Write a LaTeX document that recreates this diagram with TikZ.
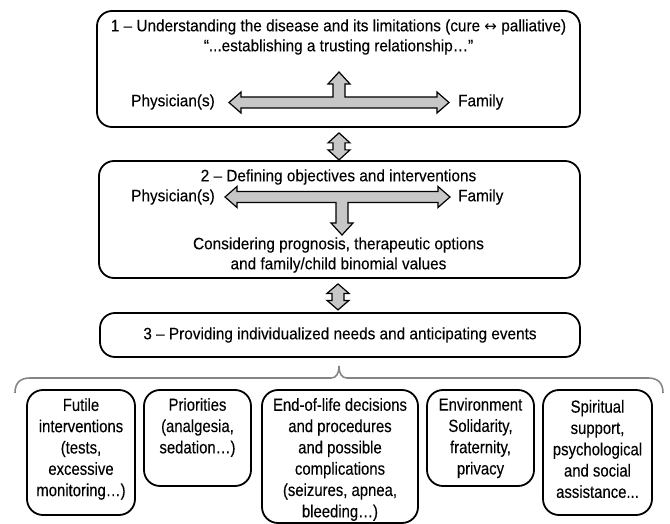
\documentclass[tikz,border=0pt]{standalone}
\usepackage{fontspec}
\setmainfont{Liberation Sans}[FakeStretch=0.93, FakeBold=0.15]
\newfontfamily\bfnt{Liberation Sans}[FakeStretch=0.85, FakeBold=0.15]
\newfontfamily\symf{DejaVu Sans}
\begin{document}
\begin{tikzpicture}[x=1pt,y=-1pt,
  bigbox/.style={draw, line width=1.8pt, rounded corners=15pt, inner sep=0pt},
  smallbox/.style={draw, line width=1.8pt, rounded corners=16pt, inner sep=0pt},
  txt/.style={font=\fontsize{16.5}{20}\selectfont, inner sep=0pt, align=center},
  stxt/.style={font=\bfnt\fontsize{17.5}{21.3}\selectfont, inner sep=0pt, align=center},
  arr/.style={draw, line width=1.2pt, fill=black!22, line join=miter},
  brace/.style={draw=black!48, line width=1.6pt}
]
\useasboundingbox (0,0) rectangle (670,524);
% main boxes
\node[bigbox, minimum width=483pt, minimum height=116pt] (b1) at (338.5,69) {};
\node[bigbox, minimum width=481pt, minimum height=117pt] (b2) at (339.5,219.5) {};
\node[bigbox, minimum width=480pt, minimum height=44pt] (b3) at (340,335) {};
% box 1 texts
\node[txt] (t1) at (338.5,37) {1 – Understanding the disease and its limitations (cure {\symf\fontsize{15}{20}\selectfont ↔} palliative)\\“...establishing a trusting relationship…”};
\node[txt, anchor=east] (p1) at (215,102) {Physician(s)};
\node[txt, anchor=west] (f1) at (458,102) {Family};
% box 2 texts
\node[txt] (t2) at (338.5,177) {2 – Defining objectives and interventions};
\node[txt, anchor=east] (p2) at (215,197) {Physician(s)};
\node[txt, anchor=west] (f2) at (458,197) {Family};
\node[txt] (c2) at (338.5,255) {Considering prognosis, therapeutic options\\and family/child binomial values};
% box 3 text
\node[txt] (t3) at (340,335) {3 – Providing individualized needs and anticipating events};
% T arrow in box 1
\draw[arr] (229,102.5) -- (241,92) -- (241,97) -- (333,97) -- (333,84) -- (328,84) -- (339,72)
  -- (350,84) -- (345,84) -- (345,97) -- (437,97) -- (437,92) -- (449,102.5) -- (437,113)
  -- (437,108) -- (241,108) -- (241,113) -- cycle;
% T arrow in box 2
\draw[arr] (225,197) -- (237,186.5) -- (237,191.5) -- (438,191.5) -- (438,186.5) -- (450,197)
  -- (438,207.5) -- (438,202.5) -- (348,202.5) -- (348,223) -- (353,223) -- (342,235)
  -- (331,223) -- (336,223) -- (336,202.5) -- (237,202.5) -- (237,207.5) -- cycle;
% connectors between boxes
\begin{scope}[shift={(b1.south)}]
\draw[arr] (0.5,5) -- (11.5,15) -- (6.5,15) -- (6.5,22) -- (11.5,22) -- (0.5,32)
  -- (-10.5,22) -- (-5.5,22) -- (-5.5,15) -- (-10.5,15) -- cycle;
\end{scope}
\begin{scope}[shift={(b2.south)}]
\draw[arr] (-1.5,5) -- (9.5,14.5) -- (4.5,14.5) -- (4.5,21.5) -- (9.5,21.5) -- (-1.5,31)
  -- (-12.5,21.5) -- (-7.5,21.5) -- (-7.5,14.5) -- (-12.5,14.5) -- cycle;
\end{scope}
% brace
\coordinate (bl) at (15,393);
\coordinate (br) at (663,393);
\coordinate (bt) at (339,366);
\draw[brace] (bl) .. controls (15,383) and (20,378) .. (30,378) -- (331,378)
  .. controls (336,378) and (339,374) .. (bt)
  .. controls (339,374) and (342,378) .. (347,378) -- (648,378)
  .. controls (658,378) and (663,383) .. (br);
% bottom boxes
\node[smallbox, minimum width=108pt, minimum height=125pt] (s1) at (81,452.5) {};
\node[smallbox, minimum width=107pt, minimum height=96pt] (s2) at (197.5,438) {};
\node[smallbox, minimum width=156pt, minimum height=133pt] (s3) at (340,456.5) {};
\node[smallbox, minimum width=107pt, minimum height=96pt] (s4) at (480.5,438) {};
\node[smallbox, minimum width=109pt, minimum height=125pt] (s5) at (597.5,452.5) {};
\node[stxt] (u1) at (81,449) {Futile\\interventions\\(tests,\\excessive\\monitoring…)};
\node[stxt] (u2) at (197.5,427.5) {Priorities\\(analgesia,\\sedation…)};
\node[stxt] (u3) at (340,459.5) {End-of-life decisions\\and procedures\\and possible\\complications\\(seizures, apnea,\\bleeding…)};
\node[stxt] (u4) at (480.5,438) {Environment\\Solidarity,\\fraternity,\\privacy};
\node[stxt] (u5) at (597.5,449) {Spiritual\\support,\\psychological\\and social\\assistance...};
\end{tikzpicture}
\end{document}
